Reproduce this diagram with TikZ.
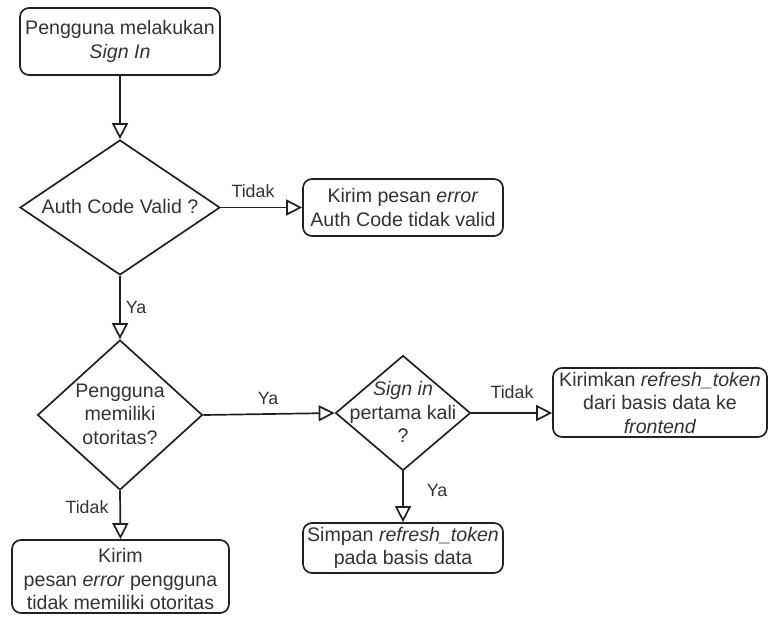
\documentclass[tikz,border=0pt]{standalone}
\usepackage{fontspec}
\setmainfont{Liberation Sans}
\usetikzlibrary{shapes.geometric,arrows.meta}
\definecolor{ink}{gray}{0.13}
\definecolor{txt}{gray}{0.2}

\begin{document}
\begin{tikzpicture}[x=1pt,y=-1pt,
  box/.style={draw=ink,line width=1.7pt,rounded corners=9pt,fill=white,inner sep=0pt,
    align=center,text=txt,font=\fontsize{19.6}{23.5}\selectfont},
  dec/.style={draw=ink,line width=1.7pt,diamond,inner sep=0pt,fill=white},
  lbl/.style={align=center,text=txt,font=\fontsize{19.6}{23.5}\selectfont,inner sep=0pt},
  elbl/.style={text=txt,font=\fontsize{17.8}{21}\selectfont,inner sep=0pt},
  flow/.style={draw=ink,line width=1.7pt,-{Triangle[length=16pt,width=16pt,fill=white]}}
]
\useasboundingbox (0,0) rectangle (768,621);

% process boxes
\node[box,minimum width=200pt,minimum height=67pt] (b1) at (120,41.5)
  {Pengguna melakukan\\\textit{Sign In}};
\node[box,minimum width=200pt,minimum height=57pt] (b2) at (403,207.5)
  {Kirim pesan \textit{error}\\Auth Code tidak valid};
\node[box,minimum width=214pt,minimum height=69pt] (b3) at (660,402.5)
  {Kirimkan \textit{refresh\_token}\\dari basis data ke\\\textit{frontend}};
\node[box,minimum width=200pt,minimum height=50pt] (b4) at (403,548)
  {Simpan \textit{refresh\_token}\\pada basis data};
\node[box,minimum width=217pt,minimum height=73pt] (b5) at (120.5,576.5) {};
\node[lbl] (t5) at (120.5,579) {Kirim\\pesan \textit{error} pengguna\\tidak memiliki otoritas};

% decisions
\node[dec,minimum width=200pt,minimum height=135pt] (d1) at (120,207.5) {};
\node[lbl] (t1) at (120,206) {Auth Code Valid ?};
\node[dec,minimum width=165pt,minimum height=150pt] (d2) at (120,415) {};
\node[lbl] (t2) at (120,414) {Pengguna\\memiliki\\otoritas?};
\node[dec,minimum width=135pt,minimum height=115pt] (d3) at (403,413) {};
\node[lbl] (t3) at (403,412) {\textit{Sign in}\\pertama kali\\?};

% connectors
\draw[flow] (b1.south) -- (d1.north);
\draw[flow] (d1.east) -- (b2.west) node[elbl] at (253,191) {Tidak};
\draw[flow] (d1.south) -- (d2.north) node[elbl] at (136,307) {Ya};
\draw[flow] (d2.east) -- (d3.west) node[elbl] at (268,398) {Ya};
\draw[flow] (d3.east) -- (d3.east -| b3.west) node[elbl] at (512,392) {Tidak};
\draw[flow] (d3.south) -- (b4.north) node[elbl] at (437,490) {Ya};
\draw[flow] (d2.south) -- (b5.north) node[elbl] at (87,507) {Tidak};
\end{tikzpicture}
\end{document}
